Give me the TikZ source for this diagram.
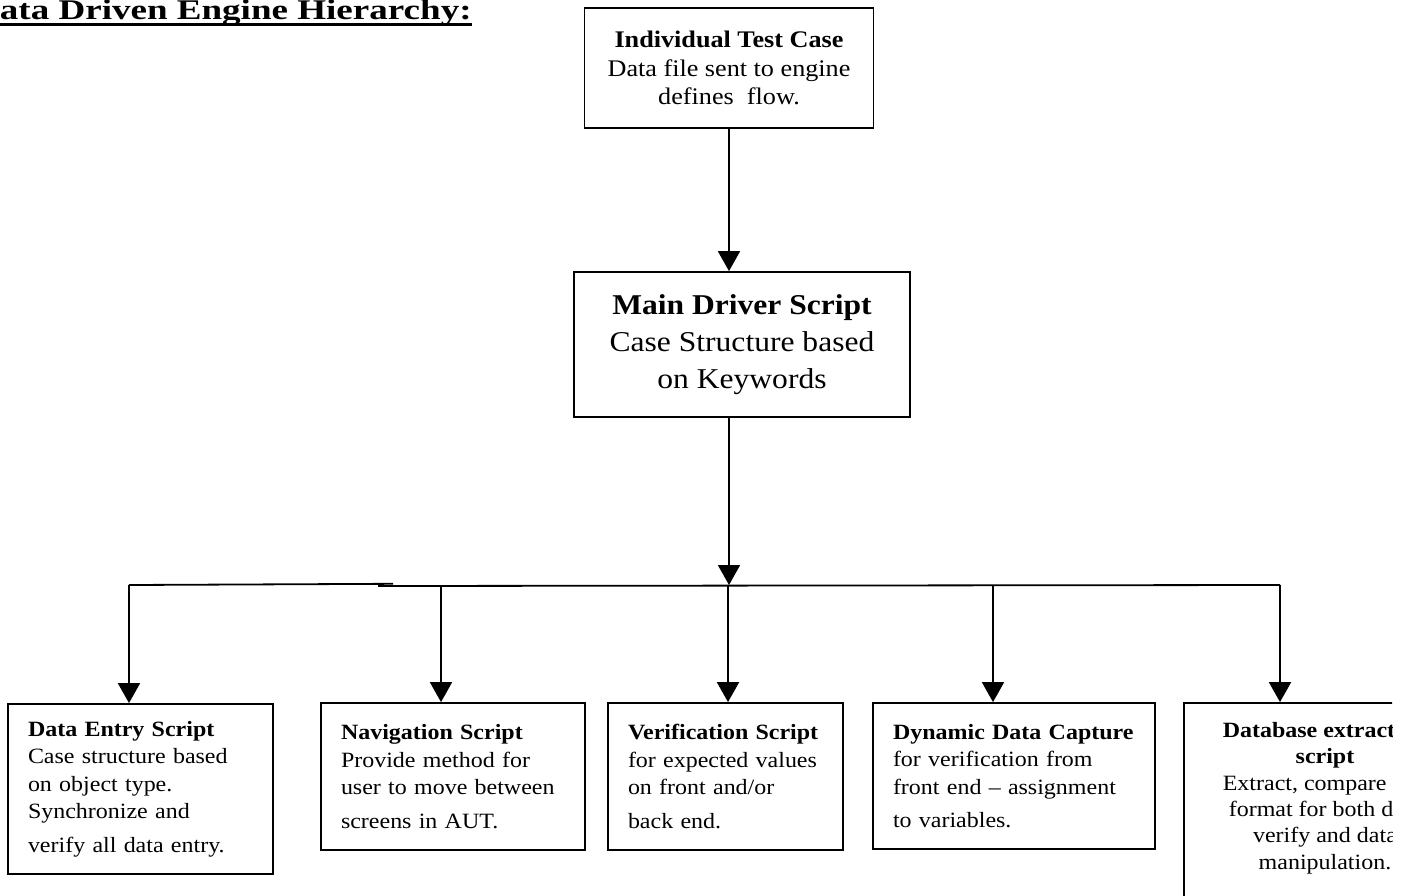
\documentclass[tikz,border=0pt]{standalone}
\usepackage{fontspec}
\setmainfont[FakeStretch=1.1]{Liberation Serif}
\newfontfamily\titlefont[FakeStretch=1.3]{Liberation Serif}
\usetikzlibrary{arrows.meta}

\begin{document}
\begin{tikzpicture}[x=1pt,y=-1pt,
    box/.style={draw,line width=1.8pt,rectangle,inner xsep=20pt,inner ysep=0pt},
    leftbox/.style={box,align=left,font=\fontsize{21.8pt}{27.5pt}\selectfont},
    link/.style={line width=1.8pt},
    arr/.style={link,-{Triangle[width=22pt,length=20pt]}}]

    \useasboundingbox (0,0) rectangle (1409,895);
    \clip (-40,-10) rectangle (1392,895);

    % title
    \node[anchor=base west,inner sep=0pt,font=\titlefont\fontsize{28.5pt}{34pt}\selectfont\bfseries]
        (title) at (-27,19.5) {Data Driven Engine Hierarchy:};
    \draw[line width=3pt] ([yshift=-4.5pt]title.base west) -- ([yshift=-4.5pt]title.base east);

    % upper boxes
    \node[box,align=center,minimum width=289pt,minimum height=120pt,
        font=\fontsize{23.8pt}{28.5pt}\selectfont] (test) at (729,68)
        {\textbf{Individual Test Case}\\Data file sent to engine\\defines\ \ flow.};

    \node[box,align=center,minimum width=336pt,minimum height=145pt,
        font=\fontsize{28.7pt}{37pt}\selectfont] (driver) at (742,344.5)
        {\textbf{Main Driver Script}\\Case Structure based\\on Keywords};

    % lower boxes
    \node[leftbox,text width=225pt,minimum height=170pt] (entry) at (140.5,789)
        {\textbf{Data Entry Script}\\Case structure based\\on object type.\\Synchronize and\\[6pt]verify all data entry.};
    \node[leftbox,text width=224pt,minimum height=147pt] (nav) at (453,776.5)
        {\textbf{Navigation Script}\\Provide method for\\user to move between\\[6pt]screens in AUT.};
    \node[leftbox,text width=195pt,minimum height=147pt] (verif) at (725.5,776.5)
        {\textbf{Verification Script}\\for expected values\\on front and/or\\[6pt]back end.};
    \node[leftbox,text width=242pt,minimum height=146pt] (dyn) at (1014,776)
        {\textbf{Dynamic Data Capture}\\for verification from\\front end -- assignment\\[6pt]to variables.};
    \node[box,align=center,minimum width=282pt,minimum height=212pt,
        font=\fontsize{21.8pt}{26.3pt}\selectfont] (dbx) at (1325,809)
        {\textbf{Database extraction}\\\textbf{script}\\Extract, compare and\\format for both data\\verify and data\\manipulation.\\\mbox{}};

    % connectors
    \draw[arr] (test.south) -- (test.south |- driver.north);

    \coordinate (bus) at (729,585);
    \draw[arr] (bus |- driver.south) -- (bus);

    \foreach \name/\x in {entry/129,nav/441,verif/728,dyn/993,dbx/1280}
        \coordinate (top-\name) at (\x,585);

    \coordinate (busL) at (393,583.8);
    \coordinate (busR) at (378,586);
    \draw[link] (top-entry) -- (busL);
    \draw[link] (busR) -- (top-dbx);

    \foreach \name in {entry,nav,verif,dyn,dbx}
        \draw[arr] (top-\name) -- (top-\name |- \name.north);
\end{tikzpicture}
\end{document}
